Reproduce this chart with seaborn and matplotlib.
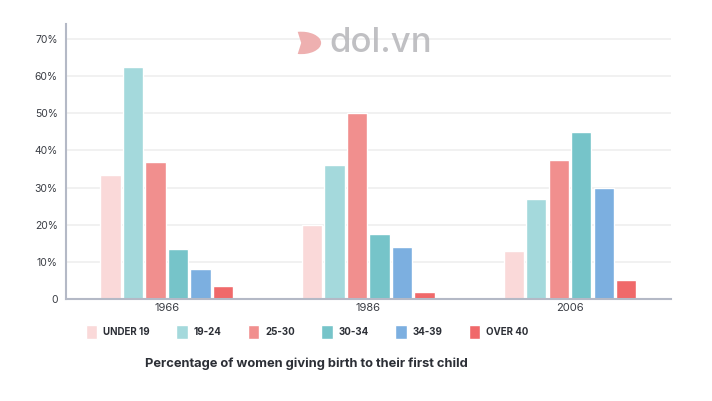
import matplotlib
matplotlib.use("Agg")
import matplotlib.pyplot as plt  # noqa: E402
import seaborn as sns  # noqa: E402
import pandas as pd  # noqa: E402
from matplotlib.patches import Wedge  # noqa: E402

years = ["1966", "1986", "2006"]
age_groups = ["UNDER 19", "19-24", "25-30", "30-34", "34-39", "OVER 40"]
under_19 = [33.5, 20, 13]
age_19_24 = [62.5, 36, 27]
age_25_30 = [37, 50, 37.5]
age_30_34 = [13.5, 17.5, 45]
age_34_39 = [8, 14, 30]
over_40 = [3.5, 2, 5]
colors = ["#fad9d9", "#a4d9dc", "#f18f8e", "#76c4c9", "#7cafe0", "#f0696a"]

series = [under_19, age_19_24, age_25_30, age_30_34, age_34_39, over_40]
rows = []
for grp, vals in zip(age_groups, series):
    for yr, v in zip(years, vals):
        rows.append({"year": yr, "age": grp, "pct": v})
df = pd.DataFrame(rows)

sns.set_theme(style="white")
plt.rcParams["font.family"] = ["Inter", "DejaVu Sans"]

fig = plt.figure(figsize=(7.12, 4.01), dpi=100)
ax = fig.add_axes([0.0927, 0.2544, 0.8493, 0.6856])

sns.barplot(data=df, x="year", y="pct", hue="age", hue_order=age_groups,
            order=years, palette=colors, width=0.67, gap=0.1,
            saturation=1, ax=ax, legend=True)

ax.set_ylim(0, 74)
ax.set_yticks(range(0, 71, 10))
ax.set_yticklabels(["0"] + [f"{t}%" for t in range(10, 71, 10)])
ax.set_xlabel("")
ax.set_ylabel("")
ax.yaxis.grid(True, color="#f0f0f0", linewidth=1.3)
ax.set_axisbelow(True)
ax.tick_params(axis="both", length=0, labelsize=7.5, colors="#3a3d44", pad=6)
ax.tick_params(axis="x", pad=3, labelsize=8)
for side in ["top", "right"]:
    ax.spines[side].set_visible(False)
for side in ["left", "bottom"]:
    ax.spines[side].set_color("#b4b9c6")
    ax.spines[side].set_linewidth(1.5)

# leyenda debajo del eje
handles, labels = ax.get_legend_handles_labels()
ax.legend_.remove()
fig.legend(handles, labels, loc="center left", bbox_to_anchor=(0.108, 0.172),
           ncol=6, frameon=False, handlelength=1.2, handleheight=1.8,
           handletextpad=0.6, columnspacing=2.7,
           prop={"weight": "bold", "size": 7})
for t in fig.legends[0].get_texts():
    t.set_color("#2c2f36")

fig.text(0.43, 0.094, "Percentage of women giving birth to their first child",
         ha="center", va="center", fontsize=9.3, weight="bold", color="#2c2f36")

# marca de agua dol.vn
fig.text(0.462, 0.893, "dol.vn", ha="left", va="center", fontsize=25,
         weight="medium", color="#b9b9bd", alpha=0.9)
fig.patches.append(Wedge((0.423, 0.893), 0.028, 260, 100,
                         transform=fig.transFigure, facecolor="#eeb0b0",
                         edgecolor="none", figure=fig))

fig.savefig("out.png", dpi=100)
